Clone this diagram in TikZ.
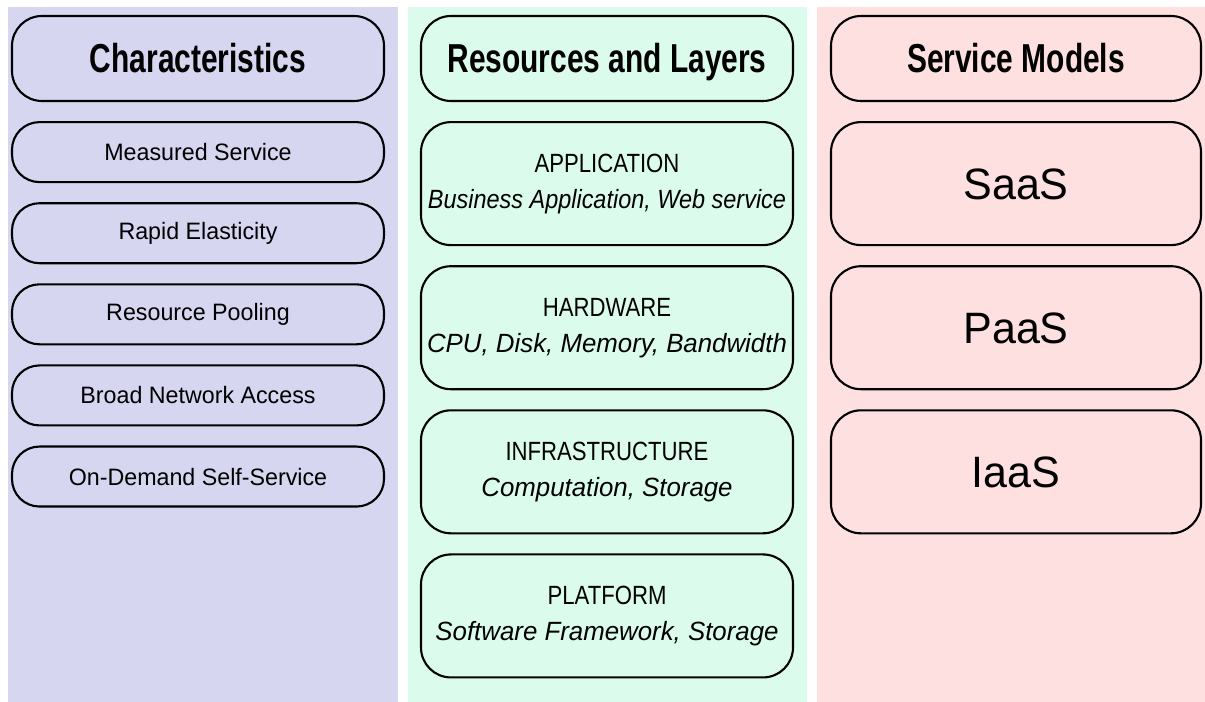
\documentclass[tikz,border=0pt]{standalone}
\usepackage{fontspec}
\setmainfont{Liberation Sans}[FakeStretch=0.98]
\newfontfamily\headfont{Liberation Sans}[FakeStretch=0.74]
\newfontfamily\capsfont{Liberation Sans}[FakeStretch=0.84]
\newfontfamily\tightfont{Liberation Sans}[FakeStretch=0.89]
\usepackage{tikz}
\usetikzlibrary{positioning}

\definecolor{charbg}{HTML}{D6D6F0}
\definecolor{layerbg}{HTML}{DBFCEC}
\definecolor{modelbg}{HTML}{FEE0E0}

\begin{document}
\begin{tikzpicture}[
    head style/.style={draw=black, line width=1.2pt, rounded corners=0.6cm, minimum width=7.44cm, minimum height=1.7cm, inner sep=2pt, text height=16.5pt, text depth=0pt, font=\headfont\fontsize{23}{27}\selectfont\bfseries},
    item style/.style={draw=black, line width=1.2pt, rounded corners=0.55cm, minimum width=7.44cm, minimum height=1.2cm, inner sep=2pt, font=\fontsize{13.5}{16}\selectfont},
    layer style/.style={draw=black, line width=1.2pt, rounded corners=0.6cm, minimum width=7.44cm, minimum height=2.46cm, inner sep=1pt, align=center, font=\fontsize{15}{20.5}\selectfont},
    model style/.style={draw=black, line width=1.2pt, rounded corners=0.6cm, minimum width=7.4cm, minimum height=2.46cm, inner sep=2pt, text height=18pt, text depth=0pt, font=\fontsize{25}{30}\selectfont},
    node distance=0.38cm
]
        \useasboundingbox (0, 0) rectangle (24.1, -14.04);

        % column panels
        \fill[charbg] (0.16, -0.14) rectangle (7.96, -14.04);
        \fill[layerbg] (8.16, -0.14) rectangle (16.14, -14.04);
        \fill[modelbg] (16.34, -0.14) rectangle (24.1, -14.04);

        % characteristics
        \node[head style] (charhead) at (3.96, -1.17) {Characteristics};
        \node[item style, below=of charhead] (measured) {Measured Service};
        \node[item style, below=of measured] (elastic) {Rapid Elasticity};
        \node[item style, below=of elastic] (pooling) {Resource Pooling};
        \node[item style, below=of pooling] (network) {Broad Network Access};
        \node[item style, below=of network] (ondemand) {On-Demand Self-Service};

        % resources and layers
        \node[head style] (layerhead) at (12.14, -1.17) {Resources and Layers};
        \node[layer style, below=of layerhead] (application) {{\capsfont APPLICATION}\\{\tightfont\itshape Business Application, Web service}};
        \node[layer style, below=of application] (hardware) {{\capsfont HARDWARE}\\\textit{CPU, Disk, Memory, Bandwidth}};
        \node[layer style, below=of hardware] (infra) {{\capsfont INFRASTRUCTURE}\\\textit{Computation, Storage}};
        \node[layer style, below=of infra] (platform) {{\capsfont PLATFORM}\\\textit{Software Framework, Storage}};

        % service models
        \node[head style, minimum width=7.4cm] (modelhead) at (20.32, -1.17) {Service Models};
        \node[model style, below=of modelhead] (saas) {SaaS};
        \node[model style, below=of saas] (paas) {PaaS};
        \node[model style, below=of paas] (iaas) {IaaS};
    \end{tikzpicture}
\end{document}
